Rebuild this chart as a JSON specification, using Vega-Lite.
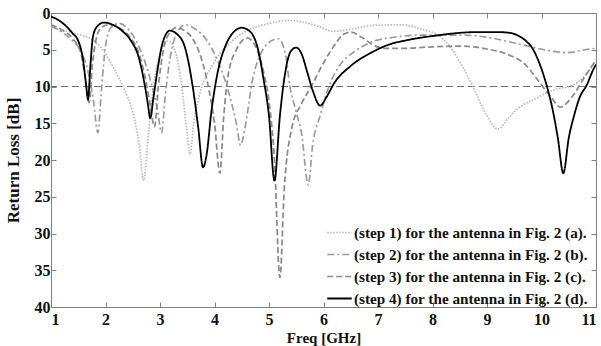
{
  "$schema": "https://vega.github.io/schema/vega-lite/v6.json",
  "width": 545,
  "height": 294,
  "autosize": {"type": "none"},
  "padding": {"left": 51, "top": 13, "right": 5, "bottom": 39},
  "background": "white",
  "config": {
    "view": {"stroke": "#808080", "strokeWidth": 1},
    "axis": {
      "labelFont": "Liberation Serif",
      "labelFontWeight": "bold",
      "labelFontSize": 16,
      "labelColor": "#111",
      "titleFont": "Liberation Serif",
      "titleFontWeight": "bold",
      "titleFontSize": 15,
      "titleColor": "#111",
      "domainColor": "#808080",
      "tickColor": "#808080",
      "grid": false
    },
    "legend": {
      "labelFont": "Liberation Serif",
      "labelFontWeight": "bold",
      "labelFontSize": 15.2,
      "labelColor": "#111",
      "labelLimit": 400
    }
  },
  "datasets": {
    "curves": [
      {"s": "(step 1) for the antenna in Fig. 2 (a).", "f": 1.0, "rl": 2.0},
      {"s": "(step 1) for the antenna in Fig. 2 (a).", "f": 1.2, "rl": 2.3},
      {"s": "(step 1) for the antenna in Fig. 2 (a).", "f": 1.4, "rl": 2.7},
      {"s": "(step 1) for the antenna in Fig. 2 (a).", "f": 1.55, "rl": 3.0},
      {"s": "(step 1) for the antenna in Fig. 2 (a).", "f": 1.75, "rl": 3.6},
      {"s": "(step 1) for the antenna in Fig. 2 (a).", "f": 1.95, "rl": 5.0},
      {"s": "(step 1) for the antenna in Fig. 2 (a).", "f": 2.15, "rl": 7.5},
      {"s": "(step 1) for the antenna in Fig. 2 (a).", "f": 2.35, "rl": 10.5},
      {"s": "(step 1) for the antenna in Fig. 2 (a).", "f": 2.5, "rl": 13.5},
      {"s": "(step 1) for the antenna in Fig. 2 (a).", "f": 2.62, "rl": 18.0},
      {"s": "(step 1) for the antenna in Fig. 2 (a).", "f": 2.7, "rl": 22.8},
      {"s": "(step 1) for the antenna in Fig. 2 (a).", "f": 2.78, "rl": 17.0},
      {"s": "(step 1) for the antenna in Fig. 2 (a).", "f": 2.85, "rl": 11.8},
      {"s": "(step 1) for the antenna in Fig. 2 (a).", "f": 2.95, "rl": 7.0},
      {"s": "(step 1) for the antenna in Fig. 2 (a).", "f": 3.05, "rl": 4.5},
      {"s": "(step 1) for the antenna in Fig. 2 (a).", "f": 3.15, "rl": 3.8},
      {"s": "(step 1) for the antenna in Fig. 2 (a).", "f": 3.27, "rl": 5.0},
      {"s": "(step 1) for the antenna in Fig. 2 (a).", "f": 3.4, "rl": 10.0},
      {"s": "(step 1) for the antenna in Fig. 2 (a).", "f": 3.5, "rl": 16.5},
      {"s": "(step 1) for the antenna in Fig. 2 (a).", "f": 3.55, "rl": 19.2},
      {"s": "(step 1) for the antenna in Fig. 2 (a).", "f": 3.62, "rl": 15.0},
      {"s": "(step 1) for the antenna in Fig. 2 (a).", "f": 3.73, "rl": 11.0},
      {"s": "(step 1) for the antenna in Fig. 2 (a).", "f": 3.97, "rl": 7.0},
      {"s": "(step 1) for the antenna in Fig. 2 (a).", "f": 4.34, "rl": 3.7},
      {"s": "(step 1) for the antenna in Fig. 2 (a).", "f": 4.6, "rl": 2.4},
      {"s": "(step 1) for the antenna in Fig. 2 (a).", "f": 4.96, "rl": 1.5},
      {"s": "(step 1) for the antenna in Fig. 2 (a).", "f": 5.38, "rl": 1.0},
      {"s": "(step 1) for the antenna in Fig. 2 (a).", "f": 5.6, "rl": 1.2},
      {"s": "(step 1) for the antenna in Fig. 2 (a).", "f": 5.9, "rl": 1.8},
      {"s": "(step 1) for the antenna in Fig. 2 (a).", "f": 6.17, "rl": 2.5},
      {"s": "(step 1) for the antenna in Fig. 2 (a).", "f": 6.5, "rl": 2.2},
      {"s": "(step 1) for the antenna in Fig. 2 (a).", "f": 6.9, "rl": 1.7},
      {"s": "(step 1) for the antenna in Fig. 2 (a).", "f": 7.4, "rl": 1.6},
      {"s": "(step 1) for the antenna in Fig. 2 (a).", "f": 7.8, "rl": 2.2},
      {"s": "(step 1) for the antenna in Fig. 2 (a).", "f": 8.14, "rl": 3.2},
      {"s": "(step 1) for the antenna in Fig. 2 (a).", "f": 8.45, "rl": 6.0},
      {"s": "(step 1) for the antenna in Fig. 2 (a).", "f": 8.74, "rl": 10.0},
      {"s": "(step 1) for the antenna in Fig. 2 (a).", "f": 9.0, "rl": 14.0},
      {"s": "(step 1) for the antenna in Fig. 2 (a).", "f": 9.2, "rl": 15.8},
      {"s": "(step 1) for the antenna in Fig. 2 (a).", "f": 9.4, "rl": 14.2},
      {"s": "(step 1) for the antenna in Fig. 2 (a).", "f": 9.6, "rl": 12.8},
      {"s": "(step 1) for the antenna in Fig. 2 (a).", "f": 9.85, "rl": 11.8},
      {"s": "(step 1) for the antenna in Fig. 2 (a).", "f": 10.2, "rl": 10.5},
      {"s": "(step 1) for the antenna in Fig. 2 (a).", "f": 10.58, "rl": 9.8},
      {"s": "(step 1) for the antenna in Fig. 2 (a).", "f": 10.8, "rl": 8.5},
      {"s": "(step 1) for the antenna in Fig. 2 (a).", "f": 11.0, "rl": 6.5},

      {"s": "(step 2) for the antenna in Fig. 2 (b).", "f": 1.0, "rl": 1.8},
      {"s": "(step 2) for the antenna in Fig. 2 (b).", "f": 1.2, "rl": 2.6},
      {"s": "(step 2) for the antenna in Fig. 2 (b).", "f": 1.4, "rl": 3.8},
      {"s": "(step 2) for the antenna in Fig. 2 (b).", "f": 1.55, "rl": 5.2},
      {"s": "(step 2) for the antenna in Fig. 2 (b).", "f": 1.68, "rl": 8.0},
      {"s": "(step 2) for the antenna in Fig. 2 (b).", "f": 1.78, "rl": 12.0},
      {"s": "(step 2) for the antenna in Fig. 2 (b).", "f": 1.86, "rl": 16.3},
      {"s": "(step 2) for the antenna in Fig. 2 (b).", "f": 1.93, "rl": 10.0},
      {"s": "(step 2) for the antenna in Fig. 2 (b).", "f": 2.0, "rl": 4.5},
      {"s": "(step 2) for the antenna in Fig. 2 (b).", "f": 2.1, "rl": 2.0},
      {"s": "(step 2) for the antenna in Fig. 2 (b).", "f": 2.25, "rl": 1.4},
      {"s": "(step 2) for the antenna in Fig. 2 (b).", "f": 2.45, "rl": 2.5},
      {"s": "(step 2) for the antenna in Fig. 2 (b).", "f": 2.65, "rl": 5.2},
      {"s": "(step 2) for the antenna in Fig. 2 (b).", "f": 2.82, "rl": 9.0},
      {"s": "(step 2) for the antenna in Fig. 2 (b).", "f": 2.95, "rl": 13.0},
      {"s": "(step 2) for the antenna in Fig. 2 (b).", "f": 3.03, "rl": 16.3},
      {"s": "(step 2) for the antenna in Fig. 2 (b).", "f": 3.1, "rl": 11.0},
      {"s": "(step 2) for the antenna in Fig. 2 (b).", "f": 3.2, "rl": 5.5},
      {"s": "(step 2) for the antenna in Fig. 2 (b).", "f": 3.32, "rl": 2.6},
      {"s": "(step 2) for the antenna in Fig. 2 (b).", "f": 3.47, "rl": 1.6},
      {"s": "(step 2) for the antenna in Fig. 2 (b).", "f": 3.65, "rl": 2.2},
      {"s": "(step 2) for the antenna in Fig. 2 (b).", "f": 3.85, "rl": 3.6},
      {"s": "(step 2) for the antenna in Fig. 2 (b).", "f": 4.05, "rl": 6.4},
      {"s": "(step 2) for the antenna in Fig. 2 (b).", "f": 4.25, "rl": 10.5},
      {"s": "(step 2) for the antenna in Fig. 2 (b).", "f": 4.4, "rl": 15.0},
      {"s": "(step 2) for the antenna in Fig. 2 (b).", "f": 4.48, "rl": 18.0},
      {"s": "(step 2) for the antenna in Fig. 2 (b).", "f": 4.56, "rl": 15.6},
      {"s": "(step 2) for the antenna in Fig. 2 (b).", "f": 4.7, "rl": 9.0},
      {"s": "(step 2) for the antenna in Fig. 2 (b).", "f": 4.85, "rl": 5.5},
      {"s": "(step 2) for the antenna in Fig. 2 (b).", "f": 5.0, "rl": 4.0},
      {"s": "(step 2) for the antenna in Fig. 2 (b).", "f": 5.17, "rl": 3.5},
      {"s": "(step 2) for the antenna in Fig. 2 (b).", "f": 5.3, "rl": 5.5},
      {"s": "(step 2) for the antenna in Fig. 2 (b).", "f": 5.38, "rl": 9.8},
      {"s": "(step 2) for the antenna in Fig. 2 (b).", "f": 5.5, "rl": 13.5},
      {"s": "(step 2) for the antenna in Fig. 2 (b).", "f": 5.6, "rl": 16.5},
      {"s": "(step 2) for the antenna in Fig. 2 (b).", "f": 5.72, "rl": 23.4},
      {"s": "(step 2) for the antenna in Fig. 2 (b).", "f": 5.8, "rl": 18.0},
      {"s": "(step 2) for the antenna in Fig. 2 (b).", "f": 5.94, "rl": 13.9},
      {"s": "(step 2) for the antenna in Fig. 2 (b).", "f": 6.1, "rl": 10.0},
      {"s": "(step 2) for the antenna in Fig. 2 (b).", "f": 6.3, "rl": 7.1},
      {"s": "(step 2) for the antenna in Fig. 2 (b).", "f": 6.58, "rl": 5.2},
      {"s": "(step 2) for the antenna in Fig. 2 (b).", "f": 6.9, "rl": 3.9},
      {"s": "(step 2) for the antenna in Fig. 2 (b).", "f": 7.3, "rl": 3.3},
      {"s": "(step 2) for the antenna in Fig. 2 (b).", "f": 7.8, "rl": 3.0},
      {"s": "(step 2) for the antenna in Fig. 2 (b).", "f": 8.5, "rl": 3.0},
      {"s": "(step 2) for the antenna in Fig. 2 (b).", "f": 9.0, "rl": 3.3},
      {"s": "(step 2) for the antenna in Fig. 2 (b).", "f": 9.4, "rl": 3.9},
      {"s": "(step 2) for the antenna in Fig. 2 (b).", "f": 9.8, "rl": 4.6},
      {"s": "(step 2) for the antenna in Fig. 2 (b).", "f": 10.2, "rl": 5.2},
      {"s": "(step 2) for the antenna in Fig. 2 (b).", "f": 10.47, "rl": 5.4},
      {"s": "(step 2) for the antenna in Fig. 2 (b).", "f": 10.8, "rl": 5.0},
      {"s": "(step 2) for the antenna in Fig. 2 (b).", "f": 11.0, "rl": 4.8},

      {"s": "(step 3) for the antenna in Fig. 2 (c).", "f": 1.0, "rl": 1.6},
      {"s": "(step 3) for the antenna in Fig. 2 (c).", "f": 1.2, "rl": 2.3},
      {"s": "(step 3) for the antenna in Fig. 2 (c).", "f": 1.4, "rl": 3.5},
      {"s": "(step 3) for the antenna in Fig. 2 (c).", "f": 1.55, "rl": 5.5},
      {"s": "(step 3) for the antenna in Fig. 2 (c).", "f": 1.63, "rl": 9.0},
      {"s": "(step 3) for the antenna in Fig. 2 (c).", "f": 1.7, "rl": 12.2},
      {"s": "(step 3) for the antenna in Fig. 2 (c).", "f": 1.76, "rl": 7.0},
      {"s": "(step 3) for the antenna in Fig. 2 (c).", "f": 1.83, "rl": 3.5},
      {"s": "(step 3) for the antenna in Fig. 2 (c).", "f": 1.92, "rl": 2.0},
      {"s": "(step 3) for the antenna in Fig. 2 (c).", "f": 2.05, "rl": 1.6},
      {"s": "(step 3) for the antenna in Fig. 2 (c).", "f": 2.25, "rl": 2.0},
      {"s": "(step 3) for the antenna in Fig. 2 (c).", "f": 2.45, "rl": 3.3},
      {"s": "(step 3) for the antenna in Fig. 2 (c).", "f": 2.6, "rl": 5.2},
      {"s": "(step 3) for the antenna in Fig. 2 (c).", "f": 2.72, "rl": 8.5},
      {"s": "(step 3) for the antenna in Fig. 2 (c).", "f": 2.82, "rl": 12.5},
      {"s": "(step 3) for the antenna in Fig. 2 (c).", "f": 2.9, "rl": 15.5},
      {"s": "(step 3) for the antenna in Fig. 2 (c).", "f": 2.97, "rl": 10.0},
      {"s": "(step 3) for the antenna in Fig. 2 (c).", "f": 3.05, "rl": 5.5},
      {"s": "(step 3) for the antenna in Fig. 2 (c).", "f": 3.15, "rl": 3.0},
      {"s": "(step 3) for the antenna in Fig. 2 (c).", "f": 3.3, "rl": 2.0},
      {"s": "(step 3) for the antenna in Fig. 2 (c).", "f": 3.45, "rl": 2.4},
      {"s": "(step 3) for the antenna in Fig. 2 (c).", "f": 3.6, "rl": 3.5},
      {"s": "(step 3) for the antenna in Fig. 2 (c).", "f": 3.75, "rl": 6.0},
      {"s": "(step 3) for the antenna in Fig. 2 (c).", "f": 3.9, "rl": 10.5},
      {"s": "(step 3) for the antenna in Fig. 2 (c).", "f": 4.0, "rl": 15.0},
      {"s": "(step 3) for the antenna in Fig. 2 (c).", "f": 4.1, "rl": 21.8},
      {"s": "(step 3) for the antenna in Fig. 2 (c).", "f": 4.17, "rl": 14.0},
      {"s": "(step 3) for the antenna in Fig. 2 (c).", "f": 4.25, "rl": 8.5},
      {"s": "(step 3) for the antenna in Fig. 2 (c).", "f": 4.4, "rl": 5.0},
      {"s": "(step 3) for the antenna in Fig. 2 (c).", "f": 4.6, "rl": 3.4},
      {"s": "(step 3) for the antenna in Fig. 2 (c).", "f": 4.75, "rl": 4.5},
      {"s": "(step 3) for the antenna in Fig. 2 (c).", "f": 4.9, "rl": 8.0},
      {"s": "(step 3) for the antenna in Fig. 2 (c).", "f": 5.0, "rl": 12.0},
      {"s": "(step 3) for the antenna in Fig. 2 (c).", "f": 5.1, "rl": 20.0},
      {"s": "(step 3) for the antenna in Fig. 2 (c).", "f": 5.2, "rl": 36.0},
      {"s": "(step 3) for the antenna in Fig. 2 (c).", "f": 5.28, "rl": 24.0},
      {"s": "(step 3) for the antenna in Fig. 2 (c).", "f": 5.42, "rl": 15.6},
      {"s": "(step 3) for the antenna in Fig. 2 (c).", "f": 5.6, "rl": 12.3},
      {"s": "(step 3) for the antenna in Fig. 2 (c).", "f": 5.79, "rl": 9.8},
      {"s": "(step 3) for the antenna in Fig. 2 (c).", "f": 6.0, "rl": 6.8},
      {"s": "(step 3) for the antenna in Fig. 2 (c).", "f": 6.2, "rl": 4.4},
      {"s": "(step 3) for the antenna in Fig. 2 (c).", "f": 6.35, "rl": 3.0},
      {"s": "(step 3) for the antenna in Fig. 2 (c).", "f": 6.5, "rl": 2.6},
      {"s": "(step 3) for the antenna in Fig. 2 (c).", "f": 6.7, "rl": 3.3},
      {"s": "(step 3) for the antenna in Fig. 2 (c).", "f": 6.9, "rl": 4.3},
      {"s": "(step 3) for the antenna in Fig. 2 (c).", "f": 7.1, "rl": 4.8},
      {"s": "(step 3) for the antenna in Fig. 2 (c).", "f": 7.5, "rl": 4.8},
      {"s": "(step 3) for the antenna in Fig. 2 (c).", "f": 8.0, "rl": 4.6},
      {"s": "(step 3) for the antenna in Fig. 2 (c).", "f": 8.5, "rl": 4.5},
      {"s": "(step 3) for the antenna in Fig. 2 (c).", "f": 9.0, "rl": 4.9},
      {"s": "(step 3) for the antenna in Fig. 2 (c).", "f": 9.4, "rl": 5.7},
      {"s": "(step 3) for the antenna in Fig. 2 (c).", "f": 9.7, "rl": 7.0},
      {"s": "(step 3) for the antenna in Fig. 2 (c).", "f": 9.9, "rl": 8.8},
      {"s": "(step 3) for the antenna in Fig. 2 (c).", "f": 10.15, "rl": 11.2},
      {"s": "(step 3) for the antenna in Fig. 2 (c).", "f": 10.35, "rl": 12.8},
      {"s": "(step 3) for the antenna in Fig. 2 (c).", "f": 10.55, "rl": 11.5},
      {"s": "(step 3) for the antenna in Fig. 2 (c).", "f": 10.8, "rl": 8.6},
      {"s": "(step 3) for the antenna in Fig. 2 (c).", "f": 11.0, "rl": 6.4},

      {"s": "(step 4) for the antenna in Fig. 2 (d).", "f": 1.0, "rl": 0.5},
      {"s": "(step 4) for the antenna in Fig. 2 (d).", "f": 1.1, "rl": 0.8},
      {"s": "(step 4) for the antenna in Fig. 2 (d).", "f": 1.25, "rl": 1.6},
      {"s": "(step 4) for the antenna in Fig. 2 (d).", "f": 1.4, "rl": 2.8},
      {"s": "(step 4) for the antenna in Fig. 2 (d).", "f": 1.5, "rl": 3.8},
      {"s": "(step 4) for the antenna in Fig. 2 (d).", "f": 1.58, "rl": 6.0},
      {"s": "(step 4) for the antenna in Fig. 2 (d).", "f": 1.64, "rl": 9.5},
      {"s": "(step 4) for the antenna in Fig. 2 (d).", "f": 1.68, "rl": 11.8},
      {"s": "(step 4) for the antenna in Fig. 2 (d).", "f": 1.72, "rl": 7.5},
      {"s": "(step 4) for the antenna in Fig. 2 (d).", "f": 1.77, "rl": 3.2},
      {"s": "(step 4) for the antenna in Fig. 2 (d).", "f": 1.85, "rl": 1.8},
      {"s": "(step 4) for the antenna in Fig. 2 (d).", "f": 1.97, "rl": 1.3},
      {"s": "(step 4) for the antenna in Fig. 2 (d).", "f": 2.1, "rl": 1.5},
      {"s": "(step 4) for the antenna in Fig. 2 (d).", "f": 2.3, "rl": 2.4},
      {"s": "(step 4) for the antenna in Fig. 2 (d).", "f": 2.47, "rl": 3.8},
      {"s": "(step 4) for the antenna in Fig. 2 (d).", "f": 2.6, "rl": 5.8},
      {"s": "(step 4) for the antenna in Fig. 2 (d).", "f": 2.72, "rl": 9.8},
      {"s": "(step 4) for the antenna in Fig. 2 (d).", "f": 2.78, "rl": 12.5},
      {"s": "(step 4) for the antenna in Fig. 2 (d).", "f": 2.82, "rl": 14.3},
      {"s": "(step 4) for the antenna in Fig. 2 (d).", "f": 2.88, "rl": 11.5},
      {"s": "(step 4) for the antenna in Fig. 2 (d).", "f": 2.96, "rl": 7.5},
      {"s": "(step 4) for the antenna in Fig. 2 (d).", "f": 3.05, "rl": 4.0},
      {"s": "(step 4) for the antenna in Fig. 2 (d).", "f": 3.18, "rl": 2.4},
      {"s": "(step 4) for the antenna in Fig. 2 (d).", "f": 3.3, "rl": 2.8},
      {"s": "(step 4) for the antenna in Fig. 2 (d).", "f": 3.45, "rl": 4.5},
      {"s": "(step 4) for the antenna in Fig. 2 (d).", "f": 3.6, "rl": 10.0},
      {"s": "(step 4) for the antenna in Fig. 2 (d).", "f": 3.7, "rl": 15.5},
      {"s": "(step 4) for the antenna in Fig. 2 (d).", "f": 3.79, "rl": 21.0},
      {"s": "(step 4) for the antenna in Fig. 2 (d).", "f": 3.85, "rl": 19.5},
      {"s": "(step 4) for the antenna in Fig. 2 (d).", "f": 3.95, "rl": 13.0},
      {"s": "(step 4) for the antenna in Fig. 2 (d).", "f": 4.06, "rl": 8.0},
      {"s": "(step 4) for the antenna in Fig. 2 (d).", "f": 4.2, "rl": 4.5},
      {"s": "(step 4) for the antenna in Fig. 2 (d).", "f": 4.35, "rl": 2.6},
      {"s": "(step 4) for the antenna in Fig. 2 (d).", "f": 4.5, "rl": 2.0},
      {"s": "(step 4) for the antenna in Fig. 2 (d).", "f": 4.65, "rl": 2.5},
      {"s": "(step 4) for the antenna in Fig. 2 (d).", "f": 4.8, "rl": 5.0},
      {"s": "(step 4) for the antenna in Fig. 2 (d).", "f": 4.9, "rl": 9.0},
      {"s": "(step 4) for the antenna in Fig. 2 (d).", "f": 5.0, "rl": 14.0},
      {"s": "(step 4) for the antenna in Fig. 2 (d).", "f": 5.1, "rl": 22.8},
      {"s": "(step 4) for the antenna in Fig. 2 (d).", "f": 5.2, "rl": 14.0},
      {"s": "(step 4) for the antenna in Fig. 2 (d).", "f": 5.3, "rl": 8.0},
      {"s": "(step 4) for the antenna in Fig. 2 (d).", "f": 5.4, "rl": 5.2},
      {"s": "(step 4) for the antenna in Fig. 2 (d).", "f": 5.5, "rl": 4.7},
      {"s": "(step 4) for the antenna in Fig. 2 (d).", "f": 5.6, "rl": 5.6},
      {"s": "(step 4) for the antenna in Fig. 2 (d).", "f": 5.7, "rl": 8.0},
      {"s": "(step 4) for the antenna in Fig. 2 (d).", "f": 5.8, "rl": 10.5},
      {"s": "(step 4) for the antenna in Fig. 2 (d).", "f": 5.94, "rl": 12.6},
      {"s": "(step 4) for the antenna in Fig. 2 (d).", "f": 6.05, "rl": 11.5},
      {"s": "(step 4) for the antenna in Fig. 2 (d).", "f": 6.2, "rl": 9.5},
      {"s": "(step 4) for the antenna in Fig. 2 (d).", "f": 6.5, "rl": 7.2},
      {"s": "(step 4) for the antenna in Fig. 2 (d).", "f": 6.9, "rl": 5.3},
      {"s": "(step 4) for the antenna in Fig. 2 (d).", "f": 7.2, "rl": 4.3},
      {"s": "(step 4) for the antenna in Fig. 2 (d).", "f": 7.53, "rl": 3.7},
      {"s": "(step 4) for the antenna in Fig. 2 (d).", "f": 8.14, "rl": 3.0},
      {"s": "(step 4) for the antenna in Fig. 2 (d).", "f": 8.5, "rl": 2.7},
      {"s": "(step 4) for the antenna in Fig. 2 (d).", "f": 8.82, "rl": 2.6},
      {"s": "(step 4) for the antenna in Fig. 2 (d).", "f": 9.2, "rl": 2.6},
      {"s": "(step 4) for the antenna in Fig. 2 (d).", "f": 9.42, "rl": 2.7},
      {"s": "(step 4) for the antenna in Fig. 2 (d).", "f": 9.6, "rl": 3.2},
      {"s": "(step 4) for the antenna in Fig. 2 (d).", "f": 9.73, "rl": 3.9},
      {"s": "(step 4) for the antenna in Fig. 2 (d).", "f": 9.85, "rl": 5.0},
      {"s": "(step 4) for the antenna in Fig. 2 (d).", "f": 9.97, "rl": 7.0},
      {"s": "(step 4) for the antenna in Fig. 2 (d).", "f": 10.1, "rl": 10.0},
      {"s": "(step 4) for the antenna in Fig. 2 (d).", "f": 10.2, "rl": 13.0},
      {"s": "(step 4) for the antenna in Fig. 2 (d).", "f": 10.3, "rl": 17.0},
      {"s": "(step 4) for the antenna in Fig. 2 (d).", "f": 10.4, "rl": 21.8},
      {"s": "(step 4) for the antenna in Fig. 2 (d).", "f": 10.5, "rl": 17.0},
      {"s": "(step 4) for the antenna in Fig. 2 (d).", "f": 10.6, "rl": 13.9},
      {"s": "(step 4) for the antenna in Fig. 2 (d).", "f": 10.7, "rl": 11.5},
      {"s": "(step 4) for the antenna in Fig. 2 (d).", "f": 10.83, "rl": 9.8},
      {"s": "(step 4) for the antenna in Fig. 2 (d).", "f": 10.95, "rl": 7.7},
      {"s": "(step 4) for the antenna in Fig. 2 (d).", "f": 11.0, "rl": 7.0}
    ]
  },
  "resolve": {"axis": {"x": "independent", "y": "independent"}},
  "layer": [
    {
      "data": {"values": [{"v": 10}]},
      "mark": {"type": "rule", "color": "#707070", "strokeWidth": 1, "strokeDash": [7, 4]},
      "encoding": {
        "y": {"field": "v", "type": "quantitative", "scale": {"domain": [0, 40], "reverse": true, "nice": false},
              "axis": {"orient": "left", "title": "Return Loss [dB]", "titleFontSize": 17, "values": [0, 5, 10, 15, 20, 25, 30, 35, 40],
                       "tickSize": -5, "labelPadding": 6, "titlePadding": 12}}
      }
    },
    {
      "data": {"name": "curves"},
      "mark": {"type": "line", "interpolate": "monotone", "clip": true},
      "encoding": {
        "x": {"field": "f", "type": "quantitative", "scale": {"domain": [1, 11], "nice": false},
              "axis": {"orient": "bottom", "title": "Freq [GHz]", "values": [1, 2, 3, 4, 5, 6, 7, 8, 9, 10, 11],
                       "tickSize": -5, "labelPadding": 9, "titlePadding": 3}},
        "y": {"field": "rl", "type": "quantitative", "axis": null},
        "color": {"field": "s", "type": "nominal", "title": null,
                  "scale": {"range": ["#b4b4b4", "#9a9a9a", "#8a8a8a", "#000000"]},
                  "legend": {"orient": "none", "legendX": 275, "legendY": 206, "symbolType": "stroke",
                             "symbolSize": 600, "rowPadding": 0, "labelOffset": 1, "padding": 0}},
        "strokeDash": {"field": "s", "type": "nominal", "title": null,
                       "scale": {"range": [[1.5, 1.5], [7, 3, 2, 3], [6, 3], [1, 0]]}},
        "strokeWidth": {"field": "s", "type": "nominal", "title": null,
                        "scale": {"range": [1.6, 1.8, 2.5, 2.4]}}
      }
    },
    {
      "data": {"values": [{"f": 1, "rl": 0}, {"f": 11, "rl": 40}]},
      "mark": {"type": "point", "opacity": 0},
      "encoding": {
        "x": {"field": "f", "type": "quantitative",
              "axis": {"orient": "top", "title": null, "labels": false, "domain": false, "tickSize": -5, "values": [1, 2, 3, 4, 5, 6, 7, 8, 9, 10, 11]}},
        "y": {"field": "rl", "type": "quantitative",
              "axis": {"orient": "right", "title": null, "labels": false, "domain": false, "tickSize": -5, "values": [0, 5, 10, 15, 20, 25, 30, 35, 40]}}
      }
    }
  ]
}
